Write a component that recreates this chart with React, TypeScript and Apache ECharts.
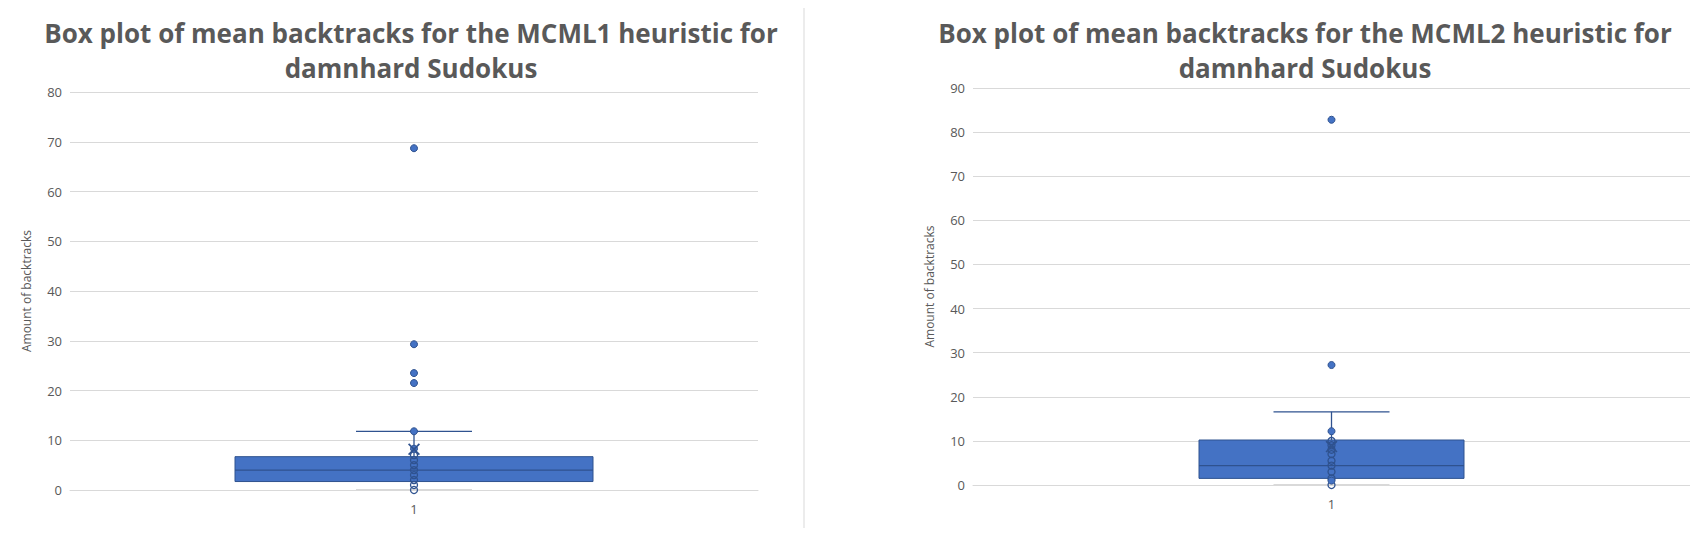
import { useEffect, useRef } from "react";
import * as echarts from "echarts";

const CATS = ["1"];
// [min, q1, median, q3, max]
const BOX1 = [0, 1.7, 4, 6.7, 11.8];
const BOX2 = [0, 1.5, 4.4, 10.2, 16.6];
const INNER1 = [0, 1, 2, 3, 4, 5, 6, 7];
const FILLED1 = [8.3, 11.8];
const OUTLIERS1 = [21.5, 23.5, 29.3, 68.7];
const MEAN1 = 8.2;
const INNER2 = [0, 1.5, 3, 4.4, 5.5, 7, 8, 9, 10];
const FILLED2 = [1, 12.2];
const OUTLIERS2 = [27.2, 82.8];
const MEAN2 = 8.7;

const BLUE = "#4472c4";
const DARK = "#2f528f";
const TEXT = "#595959";
const GRIDC = "#d9d9d9";
const FONT = "'Open Sans', sans-serif";
const XMARK = "path://M0,1 L1,0 L5,4 L9,0 L10,1 L6,5 L10,9 L9,10 L5,6 L1,10 L0,9 L4,5 Z";

function boxSeries(idx: number, box: number[], boxW: number, capW: number) {
  return {
    type: "custom",
    xAxisIndex: idx,
    yAxisIndex: idx,
    data: [[0, ...box]],
    z: 2,
    renderItem: (_p: unknown, api: any) => {
      const x = api.coord([0, 0])[0];
      const yOf = (i: number) => api.coord([0, api.value(i)])[1];
      const [ymin, yq1, ymed, yq3, ymax] = [1, 2, 3, 4, 5].map(yOf);
      const ls = { stroke: DARK, lineWidth: 1.3 };
      return {
        type: "group",
        children: [
          { type: "line", shape: { x1: x, y1: yq3, x2: x, y2: ymax }, style: ls },
          { type: "line", shape: { x1: x - capW / 2, y1: ymax, x2: x + capW / 2, y2: ymax }, style: ls },
          { type: "line", shape: { x1: x - capW / 2, y1: ymin, x2: x + capW / 2, y2: ymin }, style: { stroke: GRIDC, lineWidth: 2 } },
          { type: "rect", shape: { x: x - boxW / 2, y: yq3, width: boxW, height: yq1 - yq3 }, style: { fill: BLUE, stroke: DARK, lineWidth: 1 } },
          { type: "line", shape: { x1: x - boxW / 2, y1: ymed, x2: x + boxW / 2, y2: ymed }, style: ls },
        ],
      };
    },
  };
}

function pts(idx: number, vals: number[], hollow: boolean, size = 7) {
  return {
    type: "scatter",
    xAxisIndex: idx,
    yAxisIndex: idx,
    z: 3,
    symbol: "circle",
    symbolSize: size,
    data: vals.map((v) => ["1", v]),
    itemStyle: hollow
      ? { color: "rgba(0,0,0,0)", borderColor: DARK, borderWidth: 1.3, opacity: 1 }
      : { color: BLUE, borderColor: DARK, borderWidth: 1, opacity: 1 },
  };
}

function mean(idx: number, v: number) {
  return {
    type: "scatter",
    xAxisIndex: idx,
    yAxisIndex: idx,
    z: 4,
    symbol: XMARK,
    symbolSize: 12,
    data: [["1", v]],
    itemStyle: { color: DARK, opacity: 1 },
  };
}

export default function App() {
  const ref = useRef<HTMLDivElement | null>(null);
  useEffect(() => {
    if (!ref.current) return;
    const chart = echarts.init(ref.current, undefined, { renderer: "svg" });
    const yAx = (max: number) => ({
      type: "value",
      min: 0,
      max,
      interval: 10,
      name: "Amount of backtracks",
      nameLocation: "middle",
      nameGap: 38,
      nameTextStyle: { color: TEXT, fontSize: 12, fontFamily: FONT },
      axisLabel: { color: TEXT, fontSize: 13, fontFamily: FONT },
      axisLine: { show: false },
      axisTick: { show: false },
      splitLine: { lineStyle: { color: GRIDC } },
    });
    const xAx = (gi: number) => ({
      type: "category",
      gridIndex: gi,
      data: CATS,
      axisLine: { lineStyle: { color: GRIDC } },
      axisTick: { show: false },
      axisLabel: { color: TEXT, fontSize: 13, fontFamily: FONT, margin: 12 },
    });
    const title = (text: string, left: number) => ({
      text,
      left,
      top: 2,
      textAlign: "center",
      textStyle: { color: TEXT, fontSize: 26, fontWeight: "bold", fontFamily: FONT, lineHeight: 35 },
    });
    chart.setOption({
      animation: false,
      title: [
        title("Box plot of mean backtracks for the MCML1 heuristic for\ndamnhard Sudokus", 398),
        title("Box plot of mean backtracks for the MCML2 heuristic for\ndamnhard Sudokus", 1292),
      ],
      grid: [
        { left: 62, top: 84, width: 688, height: 398 },
        { left: 965, top: 80, width: 719, height: 397 },
      ],
      xAxis: [xAx(0), xAx(1)],
      yAxis: [{ ...yAx(80), gridIndex: 0 }, { ...yAx(90), gridIndex: 1 }],
      graphic: [{ type: "line", shape: { x1: 796, y1: 0, x2: 796, y2: 536 }, style: { stroke: GRIDC, lineWidth: 1 } }],
      series: [
        boxSeries(0, BOX1, 358, 116),
        pts(0, INNER1, true),
        pts(0, FILLED1, false),
        pts(0, OUTLIERS1, false),
        mean(0, MEAN1),
        boxSeries(1, BOX2, 265, 116),
        pts(1, INNER2, true),
        pts(1, FILLED2, false),
        pts(1, OUTLIERS2, false),
        mean(1, MEAN2),
      ],
    });
    return () => chart.dispose();
  }, []);
  return <div ref={ref} style={{ width: 1682, height: 520 }} />;
}
